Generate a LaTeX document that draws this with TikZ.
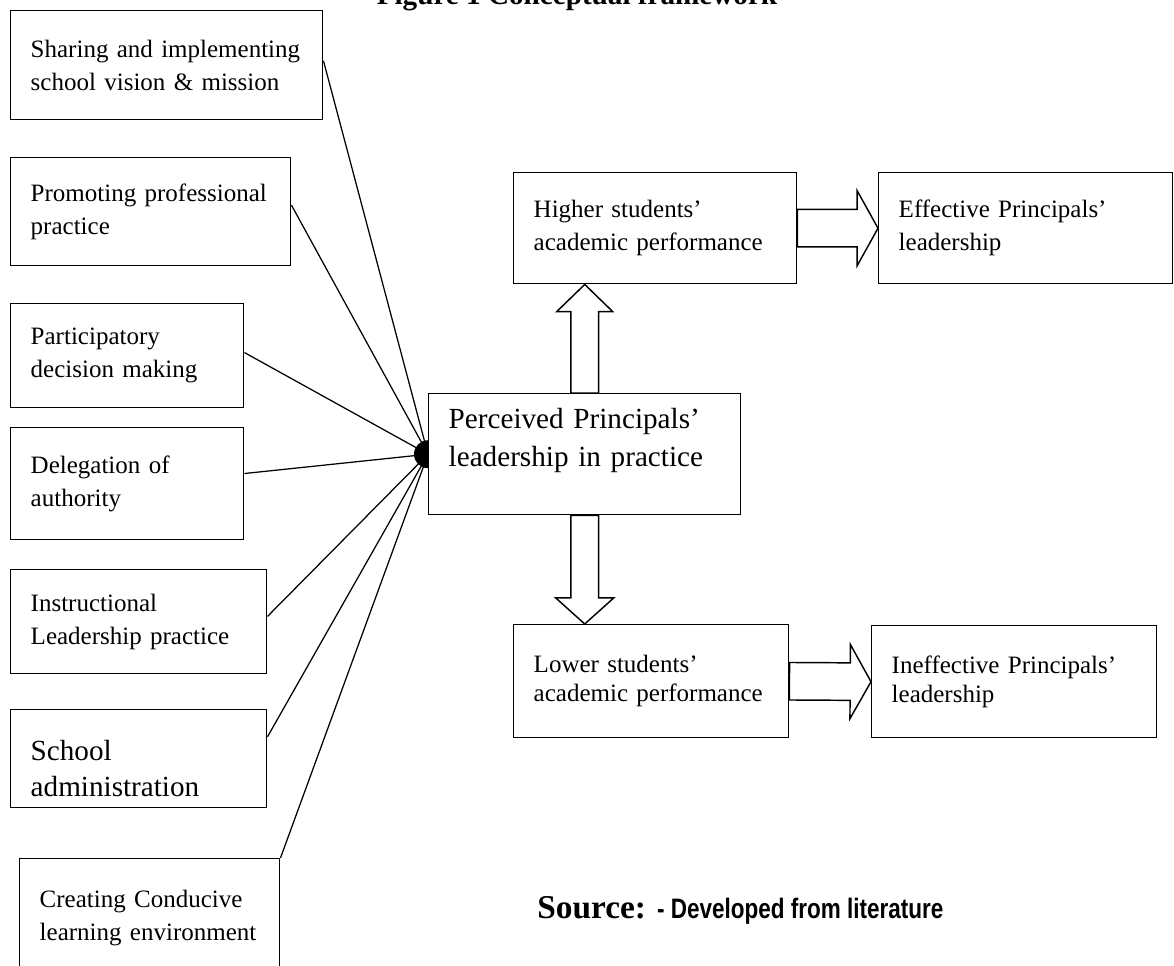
\documentclass[tikz,border=0pt]{standalone}
\usepackage{fontspec}
\setmainfont{Liberation Serif}
\newfontfamily\narrowsf[FakeStretch=0.8]{Liberation Sans}
\usetikzlibrary{calc}

\newcommand{\pxu}{0.48pt}
% hollow block arrow: start, tip, shaft half width, head half width, head length
\newcommand{\fatarrow}[5]{%
  \draw[fat] ($(#1)!#3!90:(#2)$) -- ($($(#2)!#5!(#1)$)!#3!-90:(#1)$)
    -- ($($(#2)!#5!(#1)$)!#4!-90:(#1)$) -- (#2)
    -- ($($(#2)!#5!(#1)$)!#4!90:(#1)$) -- ($($(#2)!#5!(#1)$)!#3!90:(#1)$)
    -- ($(#1)!#3!-90:(#2)$) -- cycle;}

\tikzset{
  box/.style={draw, line width=0.7pt, anchor=north west, align=left,
    inner xsep=9.6pt, font=\fontsize{12}{15.84}\selectfont},
  big/.style={font=\fontsize{14}{17.3}\selectfont},
  tight/.style={font=\fontsize{12}{13.9}\selectfont},
  spoke/.style={line width=0.6pt},
  fat/.style={line width=0.7pt, fill=white},
}

\begin{document}
\begin{tikzpicture}[x=\pxu, y=-\pxu]
  % page
  \useasboundingbox (0,0) rectangle (1174,966);
  \clip (0,0) rectangle (1174,966);

  % Title, cut by the page edge
  \node[anchor=base, inner sep=0, font=\fontsize{14}{17}\selectfont\bfseries] (title)
    at (577,5) {Figure 1 Conceptual framework};

  % Left column
  \node[box, minimum width=312*\pxu, minimum height=109*\pxu, text width=130.56pt] (share)
    at (10,10) {Sharing and implementing\\school vision \& mission};
  \node[box, minimum width=280*\pxu, minimum height=108*\pxu, text width=115.2pt] (promo)
    at (10,157) {Promoting professional\\practice};
  \node[box, minimum width=233*\pxu, minimum height=104*\pxu, text width=92.64pt] (partic)
    at (10,303) {Participatory\\decision making};
  \node[box, minimum width=233*\pxu, minimum height=112*\pxu, text width=92.64pt] (deleg)
    at (10,427) {Delegation of\\authority};
  \node[box, minimum width=256*\pxu, minimum height=104*\pxu, text width=103.68pt] (instr)
    at (10,569) {Instructional\\Leadership practice};
  \node[box, big, minimum width=256*\pxu, minimum height=98*\pxu, text width=103.68pt] (admin)
    at (10,709) {\rule{0pt}{19pt}School\\administration};
  \node[box, minimum width=260*\pxu, minimum height=118*\pxu, text width=105.6pt] (create)
    at (19,858) {Creating Conducive\\learning environment};

  % Centre and right
  \node[box, font=\fontsize{14}{18.2}\selectfont, minimum width=312*\pxu,
    minimum height=121*\pxu, text width=130.56pt] (percv)
    at (428,393) {Perceived Principals’\\leadership in practice\\[-2pt]\mbox{}};
  \node[box, minimum width=283*\pxu, minimum height=111*\pxu, text width=116.64pt] (higher)
    at (513,172) {Higher students’\\academic performance};
  \node[box, minimum width=294*\pxu, minimum height=111*\pxu, text width=121.92pt] (effect)
    at (878,172) {Effective Principals’\\leadership};
  \node[box, tight, minimum width=275*\pxu, minimum height=113*\pxu, text width=112.8pt] (lower)
    at (513,624) {Lower students’\\academic performance};
  \node[box, tight, minimum width=285*\pxu, minimum height=112*\pxu, text width=117.6pt] (ineff)
    at (871,625) {Ineffective Principals’\\leadership};

  % Spokes into the hub
  \foreach \b/\f in {share/0.46, promo/0.44, partic/0.47, deleg/0.41,
                     instr/0.45, admin/0.28, create/0}
    \draw[spoke] ($(\b.north east)!\f!(\b.south east)$) -- (percv.west);
  \fill (percv.west) ++(0,14) arc[start angle=90, end angle=270, radius=14] -- cycle;

  % Block arrows
  \fatarrow{percv.north}{percv.north |- higher.south}{6.7pt}{13.4pt}{13pt}
  \fatarrow{percv.south}{percv.south |- lower.north}{6.7pt}{13.9pt}{12.5pt}
  \fatarrow{higher.east}{effect.west}{9pt}{18pt}{10pt}
  \fatarrow{lower.east}{ineff.west}{9pt}{17.8pt}{10pt}

  % Source line
  \node[anchor=base west, inner sep=0] (src) at (537,918)
    {\fontsize{16}{19}\selectfont\bfseries Source:
     {\narrowsf\fontsize{13.5}{15}\selectfont\bfseries - Developed from literature}};
\end{tikzpicture}
\end{document}
